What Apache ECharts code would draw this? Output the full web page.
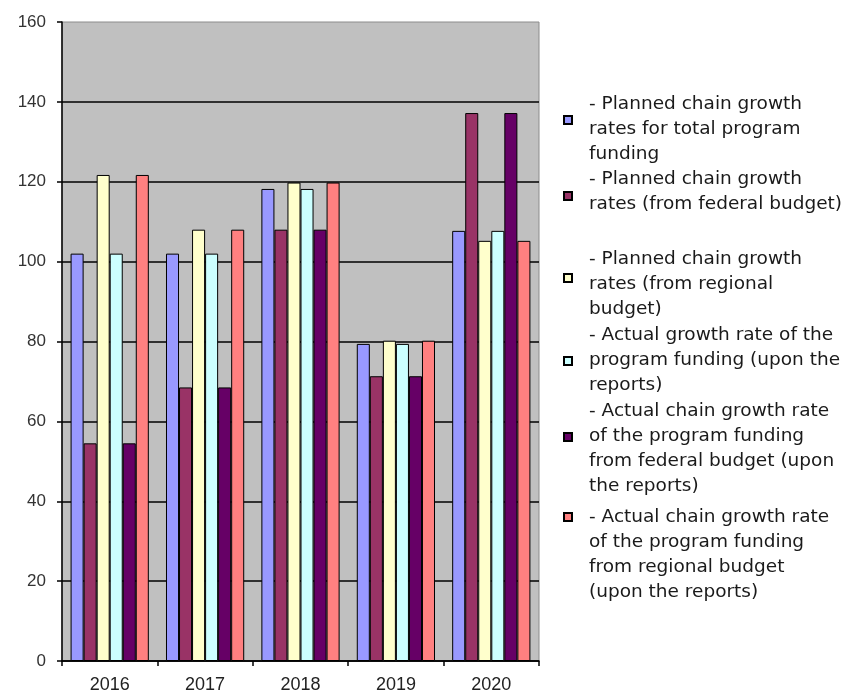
<!DOCTYPE html>
<html><head><meta charset="utf-8">
<script src="https://cdn.jsdelivr.net/npm/echarts@6/dist/echarts.min.js"></script>
<style>html,body{margin:0;padding:0;background:#fff}#c{width:848px;height:695px}</style>
</head><body><div id="c"></div>
<script>
// ---- data ----
const categories = ['2016', '2017', '2018', '2019', '2020'];
const plannedTotal    = [102, 102, 118.2, 79.4, 107.7];
const plannedFederal  = [54.5, 68.5, 108, 71.3, 137.2];
const plannedRegional = [121.7, 108, 119.8, 80.2, 105.2];
const actualTotal     = [102, 102, 118.2, 79.4, 107.7];
const actualFederal   = [54.5, 68.5, 108, 71.3, 137.2];
const actualRegional  = [121.7, 108, 119.8, 80.2, 105.2];
const yTickLabels = ['0', '20', '40', '60', '80', '100', '120', '140', '160'];

const legendLines = [
  ['- Planned chain growth', 'rates for total program', 'funding'],
  ['- Planned chain growth', 'rates (from federal budget)'],
  ['- Planned chain growth', 'rates (from regional', 'budget)'],
  ['- Actual growth rate of the', 'program funding (upon the', 'reports)'],
  ['- Actual chain growth rate', 'of the program funding', 'from federal budget (upon', 'the reports)'],
  ['- Actual chain growth rate', 'of the program funding', 'from regional budget', '(upon the reports)']
];
const seriesValues = [plannedTotal, plannedFederal, plannedRegional, actualTotal, actualFederal, actualRegional];

// ---- styles / layout ----
const colors = ['#9999ff', '#993366', '#ffffcc', '#ccffff', '#660066', '#ff8080'];
// [first text line centre y, marker centre y]
const legendLayout = [[104, 120], [179, 196], [259, 278], [335, 361], [411, 437], [517, 517]];
const LH = 25;
const FONT = 'DejaVu Sans';
const SQ = 8;       // marker size
const ICON_W = 20;  // marker box width (text starts ICON_W + 5 after)

const names = legendLines.map(l => l.join(' '));

const legends = names.map((n, i) => {
  const [L1, M] = legendLayout[i];
  const nl = legendLines[i].length;
  const contentTop = L1 - LH / 2;
  const C = contentTop + nl * LH / 2;
  const d = C - M;
  const H = 2 * Math.abs(d) + SQ;
  let path, iconTop;
  if (d >= 0) {
    path = `M0,0L${SQ},0L${SQ},${SQ}L0,${SQ}Z M${ICON_W},${H}L${ICON_W},${H}`;
    iconTop = M - SQ / 2;
  } else {
    path = `M0,${H - SQ}L${SQ},${H - SQ}L${SQ},${H}L0,${H}Z M${ICON_W},0L${ICON_W},0`;
    iconTop = M + SQ / 2 - H;
  }
  return {
    data: [n],
    orient: 'vertical',
    left: 563,
    top: Math.min(iconTop, contentTop),
    padding: 0,
    itemWidth: ICON_W,
    itemHeight: H,
    icon: 'path://' + path,
    symbolKeepAspect: false,
    selectedMode: false,
    formatter: () => legendLines[i].join('\n'),
    textStyle: {fontFamily: FONT, fontSize: 18.5, lineHeight: LH, color: '#1a1a1a'}
  };
});

const chart = echarts.init(document.getElementById('c'), null, {renderer: 'canvas'});
chart.setOption({
  animation: false,
  backgroundColor: '#ffffff',
  legend: legends,
  grid: {
    left: 62, right: 309, top: 22, bottom: 34,
    show: true, backgroundColor: '#c0c0c0', borderColor: '#8c8c8c', borderWidth: 1,
    containLabel: false
  },
  xAxis: {
    type: 'category',
    data: categories,
    axisLine: {show: true, lineStyle: {color: '#000', width: 1.5}},
    axisTick: {show: true, length: 5, lineStyle: {color: '#000', width: 1.5}},
    axisLabel: {fontFamily: 'Liberation Sans, Arial', fontSize: 18, color: '#222', margin: 15},
    splitLine: {show: false}
  },
  yAxis: {
    type: 'value',
    min: 0, max: 160, interval: 20,
    axisLine: {show: true, lineStyle: {color: '#000', width: 1.5}},
    axisTick: {show: true, length: 5, lineStyle: {color: '#000', width: 1.5}},
    axisLabel: {
      fontFamily: 'Liberation Sans, Arial', fontSize: 17, color: '#333', margin: 16,
      formatter: (v) => yTickLabels[Math.round(v / 20)]
    },
    splitLine: {show: true, showMaxLine: false, lineStyle: {color: '#000', width: 1.5}}
  },
  series: names.map((n, i) => ({
    name: n,
    type: 'bar',
    data: seriesValues[i],
    barGap: '0%',
    barCategoryGap: '18%',
    itemStyle: {color: colors[i], borderColor: '#000', borderWidth: 1}
  }))
});
</script>
</body></html>
